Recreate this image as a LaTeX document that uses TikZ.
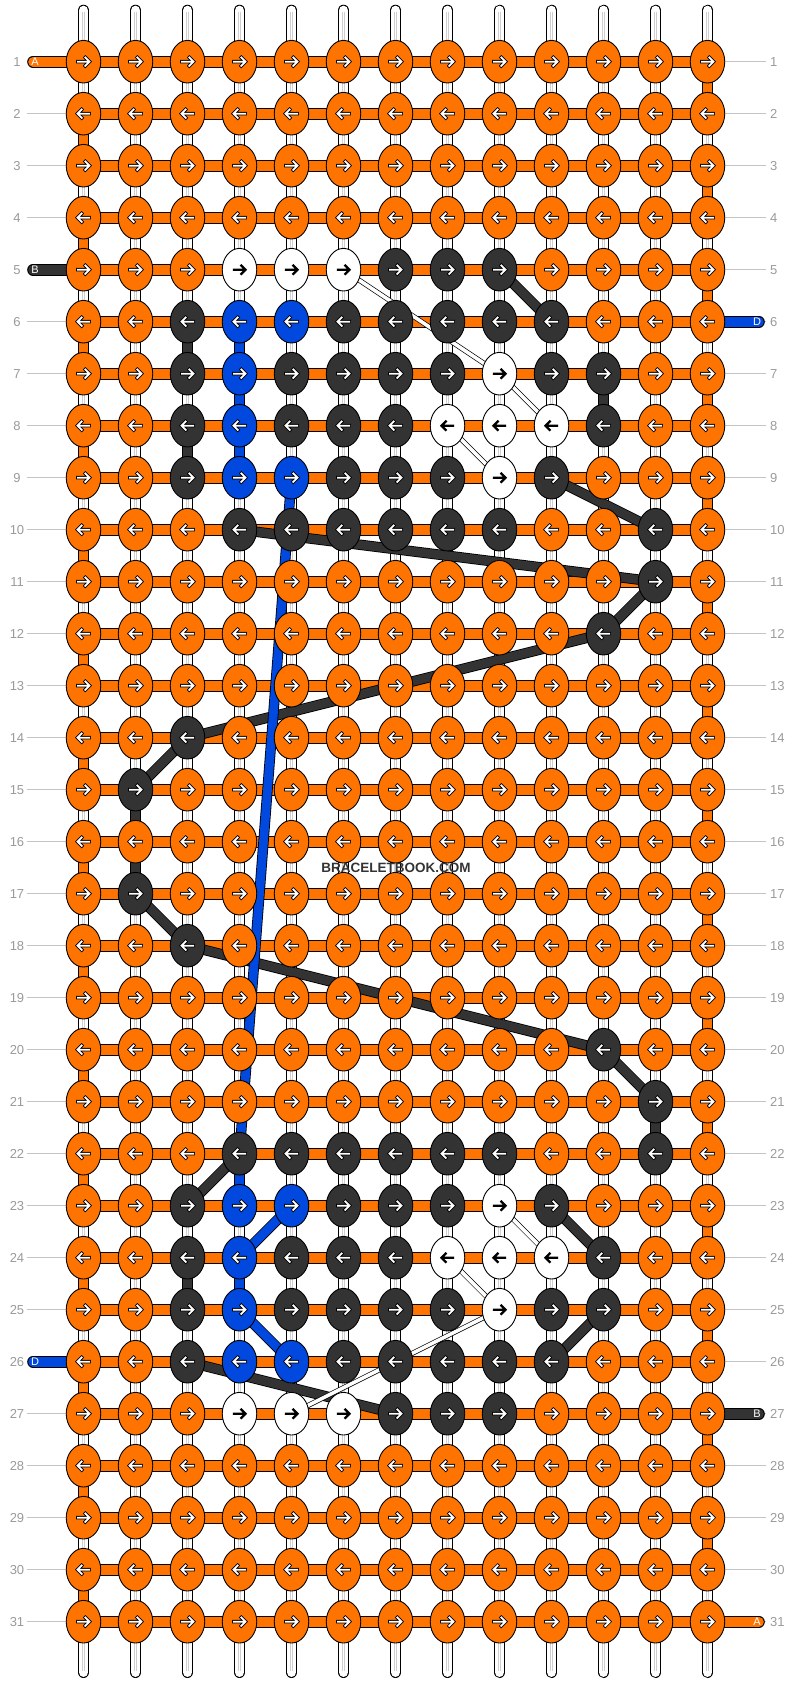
\documentclass[tikz,border=0pt]{standalone}
\usepackage{fontspec}
\setmainfont{Liberation Sans}
\usetikzlibrary{shapes.geometric}

\definecolor{thrOrange}{HTML}{FF7400}
\definecolor{thrDark}{HTML}{333333}
\definecolor{thrBlue}{HTML}{0048DE}
\definecolor{numGray}{HTML}{9A9A9A}
\definecolor{lineGray}{HTML}{C4C4C4}
\definecolor{coreGray}{HTML}{CFCFCF}

\tikzset{
  knot/.style={ellipse, draw=black, line width=0.9pt, minimum width=34.5pt, minimum height=42.6pt, inner sep=0pt},
  ko/.style={fill=thrOrange}, kk/.style={fill=thrDark}, kb/.style={fill=thrBlue}, kw/.style={fill=white},
  band/.style={draw=black, line width=1pt, double=#1, double distance=9.6pt},
  carry/.style={draw=black, line width=0.8pt, double=#1, double distance=8.8pt},
  whitepath/.style={draw=black, line width=0.7pt, double=white, double distance=3.6pt},
  basestring/.style={draw=black, line width=1pt, double=white, double distance=9.4pt, line cap=round},
  stringcore/.style={draw=coreGray, line width=1.1pt, double=white, double distance=1.4pt},
  rowline/.style={draw=lineGray, line width=1pt},
  rownum/.style={text=numGray, font=\fontsize{13}{13}\selectfont, inner sep=0pt},
  endlabel/.style={text=white, font=\fontsize{11}{11}\selectfont, inner sep=0pt},
  pics/arrowo/.style={code={
    \draw[black, line width=3.5pt, line cap=rect] (-5.6,0) -- (4.5,0) (1.8,-4.2) -- (6,0) -- (1.8,4.2);
    \draw[white, line width=1.8pt, line cap=rect] (-5.6,0) -- (4.5,0) (1.8,-4.2) -- (6,0) -- (1.8,4.2);
  }},
  pics/arrowk/.style={code={
    \draw[black, line width=3.5pt, line cap=rect] (-5.6,0) -- (4.5,0) (1.8,-4.2) -- (6,0) -- (1.8,4.2);
    \draw[white, line width=1.8pt, line cap=rect] (-5.6,0) -- (4.5,0) (1.8,-4.2) -- (6,0) -- (1.8,4.2);
  }},
  pics/arrowb/.style={code={
    \draw[black, line width=3.5pt, line cap=rect] (-5.6,0) -- (4.5,0) (1.8,-4.2) -- (6,0) -- (1.8,4.2);
    \draw[white, line width=1.8pt, line cap=rect] (-5.6,0) -- (4.5,0) (1.8,-4.2) -- (6,0) -- (1.8,4.2);
  }},
  pics/arroww/.style={code={
    \draw[black, line width=2.2pt, line cap=rect] (-5.6,0) -- (4.5,0) (1.8,-4.2) -- (6,0) -- (1.8,4.2);
  }}
}

\begin{document}
\begin{tikzpicture}[x=1pt, y=-1pt]
		%%%%% START %%%%%
		\useasboundingbox (0,0) rectangle (792,1684);
		
		% knot positions
		\foreach \r in {1,...,31}{
			\foreach \c in {1,...,13}{
				\coordinate (p-\r-\c) at ({83.5+52*(\c-1)}, {61.7+52*(\r-1)});
			}
		}
		
		% row numbers
		\foreach \r in {1,...,31}{
			\coordinate (gl-\r) at (27, {61.7+52*(\r-1)});
			\coordinate (gr-\r) at (766, {61.7+52*(\r-1)});
			\draw[rowline] (gl-\r) -- (p-\r-1);
			\draw[rowline] (p-\r-13) -- (gr-\r);
			\node[rownum] (numL-\r) at (17, {61.7+52*(\r-1)}) {\r};
			\node[rownum, anchor=west] (numR-\r) at (770, {61.7+52*(\r-1)}) {\r};
		}
		
		% base strings
		\foreach \c in {1,...,13}{
			\coordinate (top-\c) at ({83.5+52*(\c-1)}, 10.4);
			\coordinate (bot-\c) at ({83.5+52*(\c-1)}, 1672.3);
			\coordinate (coreT-\c) at ({83.5+52*(\c-1)}, 12);
			\coordinate (coreB-\c) at ({83.5+52*(\c-1)}, 1670.5);
			\draw[basestring] (top-\c) -- (bot-\c);
			\draw[stringcore] (coreT-\c) -- (coreB-\c);
		}
		
		% knotting thread A
		\foreach \r in {1,...,31}{
			\draw[band=thrOrange] (p-\r-1) -- (p-\r-13);
		}
		\foreach \r in {1,3,...,29}{
			\pgfmathtruncatemacro\s{\r+1}
			\draw[band=thrOrange] (p-\r-13) -- (p-\s-13);
		}
		\foreach \r in {2,4,...,30}{
			\pgfmathtruncatemacro\s{\r+1}
			\draw[band=thrOrange] (p-\r-1) -- (p-\s-1);
		}
		
		% loose ends
		\coordinate (endA1) at (33, 61.7);
		\coordinate (endB1) at (33, 269.7);
		\coordinate (endD1) at (759, 321.7);
		\coordinate (endD2) at (33, 1361.7);
		\coordinate (endB2) at (759, 1413.7);
		\coordinate (endA2) at (759, 1621.7);
		\draw[band=thrOrange, line cap=round] (p-1-1) -- (endA1);
		\draw[band=thrDark, line cap=round] (p-5-1) -- (endB1);
		\draw[band=thrBlue, line cap=round] (p-6-13) -- (endD1);
		\draw[band=thrBlue, line cap=round] (p-26-1) -- (endD2);
		\draw[band=thrDark, line cap=round] (p-27-13) -- (endB2);
		\draw[band=thrOrange, line cap=round] (p-31-13) -- (endA2);
		\node[endlabel] (labA1) at (35, 61.7) {A};
		\node[endlabel] (labB1) at (35, 269.7) {B};
		\node[endlabel] (labD1) at (757, 321.7) {D};
		\node[endlabel] (labD2) at (35, 1361.7) {D};
		\node[endlabel] (labB2) at (757, 1413.7) {B};
		\node[endlabel] (labA2) at (757, 1621.7) {A};
		
		% thread B carried behind
		\draw[carry=thrDark] (p-5-9) -- (p-6-10);
		\draw[carry=thrDark] (p-6-3) -- (p-7-3);
		\draw[carry=thrDark] (p-7-11) -- (p-8-11);
		\draw[carry=thrDark] (p-8-3) -- (p-9-3);
		\draw[carry=thrDark] (p-9-10) -- (p-10-12);
		\draw[carry=thrDark] (p-10-4) -- (p-11-12);
		\draw[carry=thrDark] (p-11-12) -- (p-12-11);
		\draw[carry=thrDark] (p-12-11) -- (p-14-3);
		\draw[carry=thrDark] (p-14-3) -- (p-15-2);
		\draw[carry=thrDark] (p-15-2) -- (p-17-2);
		\draw[carry=thrDark] (p-17-2) -- (p-18-3);
		\draw[carry=thrDark] (p-18-3) -- (p-20-11);
		\draw[carry=thrDark] (p-20-11) -- (p-21-12);
		\draw[carry=thrDark] (p-21-12) -- (p-22-12);
		\draw[carry=thrDark] (p-22-4) -- (p-23-3);
		\draw[carry=thrDark] (p-23-10) -- (p-24-11);
		\draw[carry=thrDark] (p-24-3) -- (p-25-3);
		\draw[carry=thrDark] (p-25-11) -- (p-26-10);
		\draw[carry=thrDark] (p-26-3) -- (p-27-7);
		
		% thread D carried behind
		\draw[carry=thrBlue] (p-6-4) -- (p-7-4) -- (p-8-4) -- (p-9-4);
		\draw[carry=thrBlue] (p-9-5) -- (p-22-4) -- (p-23-4);
		\draw[carry=thrBlue] (p-23-5) -- (p-24-4) -- (p-25-4) -- (p-26-5);
		
		% white thread carried behind
		\draw[whitepath] (p-5-6) -- (p-7-9);
		\draw[whitepath] (p-7-9) -- (p-8-10);
		\draw[whitepath] (p-8-8) -- (p-9-9);
		\draw[whitepath] (p-23-9) -- (p-24-10);
		\draw[whitepath] (p-24-8) -- (p-25-9);
		\draw[whitepath] (p-25-9) -- (p-27-5);
		
		% knots
		\foreach \r/\cols in {
			1/{o,o,o,o,o,o,o,o,o,o,o,o,o},
			2/{o,o,o,o,o,o,o,o,o,o,o,o,o},
			3/{o,o,o,o,o,o,o,o,o,o,o,o,o},
			4/{o,o,o,o,o,o,o,o,o,o,o,o,o},
			5/{o,o,o,w,w,w,k,k,k,o,o,o,o},
			6/{o,o,k,b,b,k,k,k,k,k,o,o,o},
			7/{o,o,k,b,k,k,k,k,w,k,k,o,o},
			8/{o,o,k,b,k,k,k,w,w,w,k,o,o},
			9/{o,o,k,b,b,k,k,k,w,k,o,o,o},
			10/{o,o,o,k,k,k,k,k,k,o,o,k,o},
			11/{o,o,o,o,o,o,o,o,o,o,o,k,o},
			12/{o,o,o,o,o,o,o,o,o,o,k,o,o},
			13/{o,o,o,o,o,o,o,o,o,o,o,o,o},
			14/{o,o,k,o,o,o,o,o,o,o,o,o,o},
			15/{o,k,o,o,o,o,o,o,o,o,o,o,o},
			16/{o,o,o,o,o,o,o,o,o,o,o,o,o},
			17/{o,k,o,o,o,o,o,o,o,o,o,o,o},
			18/{o,o,k,o,o,o,o,o,o,o,o,o,o},
			19/{o,o,o,o,o,o,o,o,o,o,o,o,o},
			20/{o,o,o,o,o,o,o,o,o,o,k,o,o},
			21/{o,o,o,o,o,o,o,o,o,o,o,k,o},
			22/{o,o,o,k,k,k,k,k,k,o,o,k,o},
			23/{o,o,k,b,b,k,k,k,w,k,o,o,o},
			24/{o,o,k,b,k,k,k,w,w,w,k,o,o},
			25/{o,o,k,b,k,k,k,k,w,k,k,o,o},
			26/{o,o,k,b,b,k,k,k,k,k,o,o,o},
			27/{o,o,o,w,w,w,k,k,k,o,o,o,o},
			28/{o,o,o,o,o,o,o,o,o,o,o,o,o},
			29/{o,o,o,o,o,o,o,o,o,o,o,o,o},
			30/{o,o,o,o,o,o,o,o,o,o,o,o,o},
			31/{o,o,o,o,o,o,o,o,o,o,o,o,o}}{
			\pgfmathtruncatemacro\dir{1-2*mod(\r+1,2)}
			\foreach \k [count=\c] in \cols {
				\node[knot, k\k] (n-\r-\c) at (p-\r-\c) {};
				\pic[xscale=\dir] at (p-\r-\c) {arrow\k};
			}
		}
		
		\node[text=thrDark, font=\bfseries\fontsize{13.5}{13.5}\selectfont, inner sep=0pt] (mark) at (396, 867.7) {BRACELETBOOK.COM};
		
		%%%%% END %%%%%
\end{tikzpicture}
\end{document}
